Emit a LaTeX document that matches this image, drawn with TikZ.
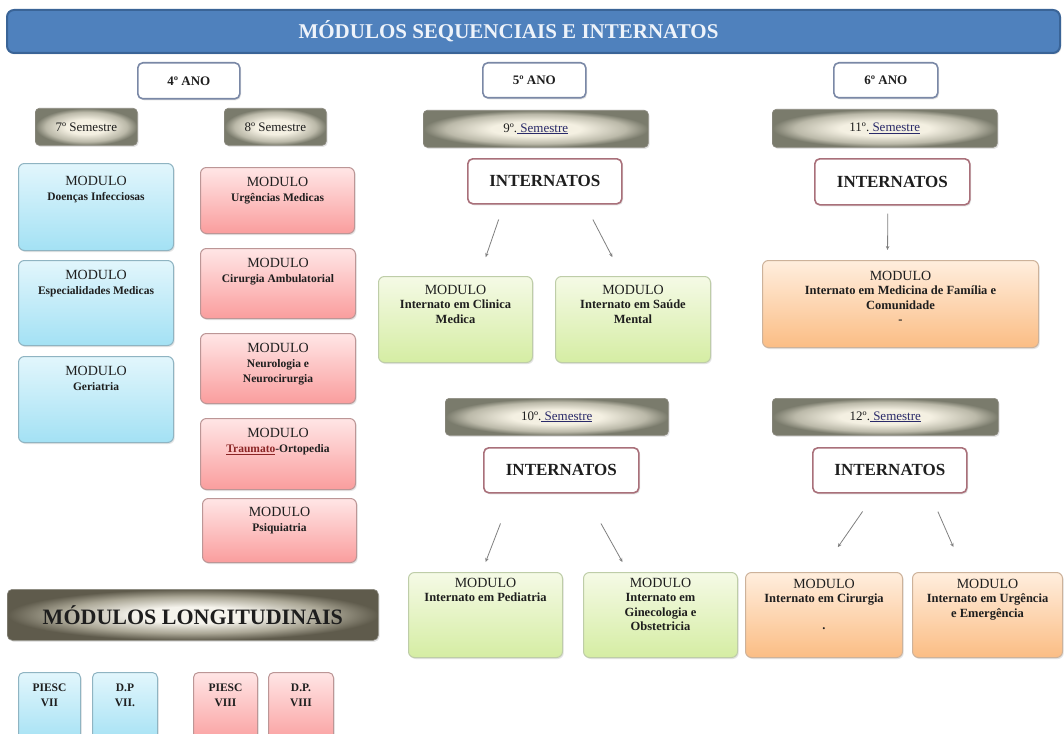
\documentclass[tikz,border=0pt]{standalone}
\usepackage{fontspec}
\setmainfont{Liberation Serif}
\usetikzlibrary{shadows,arrows.meta}
\definecolor{titlefill}{HTML}{4F81BD}
\definecolor{titledraw}{HTML}{3A6497}
\definecolor{titletext}{HTML}{EEF3FA}
\definecolor{anodraw}{HTML}{7A88A6}
\definecolor{intdraw}{HTML}{A9707A}
\definecolor{semdark}{HTML}{7A7B6C}
\definecolor{semmid}{HTML}{BBB9A9}
\definecolor{semlight}{HTML}{F4F0E2}
\definecolor{semdraw}{HTML}{8C8A80}
\definecolor{longdark}{HTML}{5F5B4C}
\definecolor{longmid}{HTML}{ABA796}
\definecolor{longlight}{HTML}{F5F3EC}
\definecolor{bluetop}{HTML}{E2F6FC}
\definecolor{bluebot}{HTML}{A3E1F4}
\definecolor{bluedraw}{HTML}{8FB4C2}
\definecolor{redtop}{HTML}{FFE6E6}
\definecolor{redbot}{HTML}{FA9D9D}
\definecolor{reddraw}{HTML}{BC9696}
\definecolor{greentop}{HTML}{F5FAE6}
\definecolor{greenbot}{HTML}{D5EDA3}
\definecolor{greendraw}{HTML}{BECDA8}
\definecolor{oratop}{HTML}{FFEEDE}
\definecolor{orabot}{HTML}{FBBD84}
\definecolor{oradraw}{HTML}{CDB29A}
\definecolor{txt}{HTML}{1E1E1E}
\definecolor{arrowc}{HTML}{808080}
\definecolor{semlink}{HTML}{2A2A6A}
\definecolor{spellc}{HTML}{8B2525}
\pgfdeclareradialshading{semshade}{\pgfpoint{0bp}{0bp}}{color(0bp)=(semlight); color(10bp)=(semlight); color(20bp)=(semmid); color(25bp)=(semdark); color(50bp)=(semdark)}
\pgfdeclareradialshading{longshade}{\pgfpoint{0bp}{0bp}}{color(0bp)=(longlight); color(8bp)=(longlight); color(18bp)=(longmid); color(25bp)=(longdark); color(50bp)=(longdark)}
\newcommand\mdlfont{\fontsize{14}{15}\selectfont\mdseries}
\newcommand\lnk[1]{\textcolor{semlink}{\underline{\ #1}}}
\newcommand\redul[1]{{\color{spellc}\underline{#1}}}
\begin{document}
\begin{tikzpicture}[x=1pt,y=-1pt,
  shad/.style={drop shadow={shadow xshift=1.2pt,shadow yshift=-1.5pt,opacity=.22}},
  box/.style={rectangle, rounded corners=6pt, anchor=north west, inner sep=0pt, line width=1pt, shad},
  bluebox/.style={box, draw=bluedraw, top color=bluetop, bottom color=bluebot},
  redbox/.style={box, draw=reddraw, top color=redtop, bottom color=redbot},
  greenbox/.style={box, draw=greendraw, top color=greentop, bottom color=greenbot},
  orabox/.style={box, draw=oradraw, top color=oratop, bottom color=orabot},
  sembox/.style={box, rounded corners=4pt, draw=semdraw, line width=.6pt, shading=semshade, font=\fontsize{13}{15}\selectfont, text=txt},
  anobox/.style={box, rounded corners=5pt, draw=anodraw, line width=1.6pt, fill=white, font=\fontsize{13}{15}\selectfont\bfseries, text=txt},
  intbox/.style={box, rounded corners=5pt, draw=intdraw, line width=1.6pt, fill=white, font=\fontsize{17}{19}\selectfont\bfseries, text=txt},
  ltxt/.style={anchor=north, inner sep=0pt, align=center, text=txt, font=\fontsize{11.5}{15}\selectfont\bfseries},
  rtxt/.style={anchor=north, inner sep=0pt, align=center, text=txt, font=\fontsize{12.5}{14.5}\selectfont\bfseries},
  arr/.style={draw=arrowc, line width=.8pt, -{Stealth[length=4pt,width=3.5pt]}}
]
\path[use as bounding box] (0,0) rectangle (1064,733);
\clip (0,0) rectangle (1064,733);
\fill[white] (0,0) rectangle (1064,733);

% title
\node[box, rounded corners=7pt, draw=titledraw, line width=2pt, fill=titlefill, minimum width=1053pt, minimum height=43pt] (title) at (6,9) {};
\node[inner sep=0pt, font=\fontsize{21}{23}\selectfont\bfseries, text=titletext] (titlet) at ([xshift=-25pt]title.center) {MÓDULOS SEQUENCIAIS E INTERNATOS};

% years
\node[anobox, minimum width=102pt, minimum height=36pt] (ano4) at (137,62) {4º ANO};
\node[anobox, minimum width=103pt, minimum height=35pt] (ano5) at (482,62) {5º ANO};
\node[anobox, minimum width=104pt, minimum height=35pt] (ano6) at (833,62) {6º ANO};

% semesters
\node[sembox, minimum width=102pt, minimum height=37pt] (s7) at (35,108) {7º Semestre};
\node[sembox, minimum width=102pt, minimum height=37pt] (s8) at (224,108) {8º Semestre};
\node[sembox, minimum width=225pt, minimum height=37pt] (s9) at (423,110) {9º.\lnk{Semestre}};
\node[sembox, minimum width=225pt, minimum height=38pt] (s11) at (772,109) {11º.\lnk{Semestre}};
\node[sembox, minimum width=223pt, minimum height=37pt] (s10) at (445,398) {10º.\lnk{Semestre}};
\node[sembox, minimum width=226pt, minimum height=37pt] (s12) at (772,398) {12º.\lnk{Semestre}};

% internatos
\node[intbox, minimum width=154pt, minimum height=45pt] (int1) at (467,158) {INTERNATOS};
\node[intbox, minimum width=155pt, minimum height=46pt] (int2) at (814,158) {INTERNATOS};
\node[intbox, minimum width=155pt, minimum height=45pt] (int3) at (483,447) {INTERNATOS};
\node[intbox, minimum width=154pt, minimum height=45pt] (int4) at (812,447) {INTERNATOS};

% 7th semester modules
\node[bluebox, minimum width=155pt, minimum height=87pt] (d1) at (18,163) {};
\node[ltxt] (d1t) at ([yshift=-13pt]d1.north) {{\mdlfont MODULO}\\Doenças Infecciosas};
\node[bluebox, minimum width=155pt, minimum height=85pt] (d2) at (18,260) {};
\node[ltxt] (d2t) at ([yshift=-10pt]d2.north) {{\mdlfont MODULO}\\Especialidades Medicas};
\node[bluebox, minimum width=155pt, minimum height=86pt] (d3) at (18,356) {};
\node[ltxt] (d3t) at ([yshift=-10pt]d3.north) {{\mdlfont MODULO}\\Geriatria};

% 8th semester modules
\node[redbox, minimum width=154pt, minimum height=66pt] (r1) at (200,167) {};
\node[ltxt] (r1t) at ([yshift=-10pt]r1.north) {{\mdlfont MODULO}\\Urgências Medicas};
\node[redbox, minimum width=155pt, minimum height=70pt] (r2) at (200,248) {};
\node[ltxt] (r2t) at ([yshift=-10pt]r2.north) {{\mdlfont MODULO}\\Cirurgia Ambulatorial};
\node[redbox, minimum width=155pt, minimum height=70pt] (r3) at (200,333) {};
\node[ltxt] (r3t) at ([yshift=-10pt]r3.north) {{\mdlfont MODULO}\\Neurologia e\\Neurocirurgia};
\node[redbox, minimum width=155pt, minimum height=71pt] (r4) at (200,418) {};
\node[ltxt] (r4t) at ([yshift=-10pt]r4.north) {{\mdlfont MODULO}\\\redul{Traumato}-Ortopedia};
\node[redbox, minimum width=154pt, minimum height=64pt] (r5) at (202,498) {};
\node[ltxt] (r5t) at ([yshift=-9pt]r5.north) {{\mdlfont MODULO}\\Psiquiatria};

% 9th semester modules
\node[greenbox, minimum width=154pt, minimum height=86pt] (mcm) at (378,276) {};
\node[rtxt] (mcmt) at ([yshift=-9pt]mcm.north) {{\mdlfont MODULO}\\Internato em Clinica\\Medica};
\node[greenbox, minimum width=155pt, minimum height=86pt] (msm) at (555,276) {};
\node[rtxt] (msmt) at ([yshift=-9pt]msm.north) {{\mdlfont MODULO}\\Internato em Saúde\\Mental};

% 11th semester module
\node[orabox, minimum width=276pt, minimum height=87pt] (mmf) at (762,260) {};
\node[rtxt] (mmft) at ([yshift=-11pt]mmf.north) {{\mdlfont MODULO}\\Internato em Medicina de Família e\\Comunidade\\-};

% 10th semester modules
\node[greenbox, minimum width=154pt, minimum height=85pt] (mped) at (408,572) {};
\node[rtxt] (mpedt) at ([yshift=-6pt]mped.north) {{\mdlfont MODULO}\\Internato em Pediatria};
\node[greenbox, minimum width=154pt, minimum height=85pt] (mgin) at (583,572) {};
\node[rtxt] (mgint) at ([yshift=-6pt]mgin.north) {{\mdlfont MODULO}\\Internato em\\Ginecologia e\\Obstetricia};

% 12th semester modules
\node[orabox, minimum width=157pt, minimum height=85pt] (mcir) at (745,572) {};
\node[rtxt] (mcirt) at ([yshift=-7pt]mcir.north) {{\mdlfont MODULO}\\Internato em Cirurgia\\[12pt].};
\node[orabox, minimum width=150pt, minimum height=85pt] (murg) at (912,572) {};
\node[rtxt] (murgt) at ([yshift=-7pt]murg.north) {{\mdlfont MODULO}\\Internato em Urgência\\e Emergência};

% longitudinal
\node[box, rounded corners=5pt, draw=semdraw, line width=.6pt, shading=longshade, minimum width=371pt, minimum height=51pt, font=\fontsize{22}{24}\selectfont\bfseries, text=txt] (long) at (7,589) {MÓDULOS LONGITUDINAIS};

\node[bluebox, rounded corners=5pt, minimum width=62pt, minimum height=72pt] (p1) at (18,672) {};
\node[ltxt] (p1t) at ([yshift=-12pt]p1.north) {PIESC\\VII};
\node[bluebox, rounded corners=5pt, minimum width=65pt, minimum height=72pt] (p2) at (92,672) {};
\node[ltxt] (p2t) at ([yshift=-12pt]p2.north) {D.P\\VII.};
\node[redbox, rounded corners=5pt, minimum width=64pt, minimum height=72pt] (p3) at (193,672) {};
\node[ltxt] (p3t) at ([yshift=-12pt]p3.north) {PIESC\\VIII};
\node[redbox, rounded corners=5pt, minimum width=65pt, minimum height=72pt] (p4) at (268,672) {};
\node[ltxt] (p4t) at ([yshift=-12pt]p4.north) {D.P.\\VIII};

% arrows
\draw[arr, shorten <=15.8pt, shorten >=20pt] ([xshift=-41pt]int1.south) -- ([xshift=23.7pt]mcm.north);
\draw[arr, shorten <=16.8pt, shorten >=21.3pt] ([xshift=40.3pt]int1.south) -- ([xshift=-10.8pt]msm.north);
\draw[arr, shorten <=8pt, shorten >=10pt] ([xshift=-4.5pt]int2.south) -- ([xshift=-13pt]mmf.north);
\draw[arr, shorten <=32pt, shorten >=10.7pt] ([xshift=-49.25pt]int3.south) -- ([xshift=-3.75pt]mped.north);
\draw[arr, shorten <=34.2pt, shorten >=11.4pt] ([xshift=23pt]int3.south) -- ([xshift=-32.5pt]mgin.north);
\draw[arr, shorten <=21.7pt, shorten >=30.2pt] ([xshift=-14.8pt]int4.south) -- ([xshift=-3.4pt]mcir.north);
\draw[arr, shorten <=19.6pt, shorten >=27.25pt] ([xshift=40.2pt]int4.south) -- ([xshift=-23.2pt]murg.north);
\end{tikzpicture}
\end{document}
